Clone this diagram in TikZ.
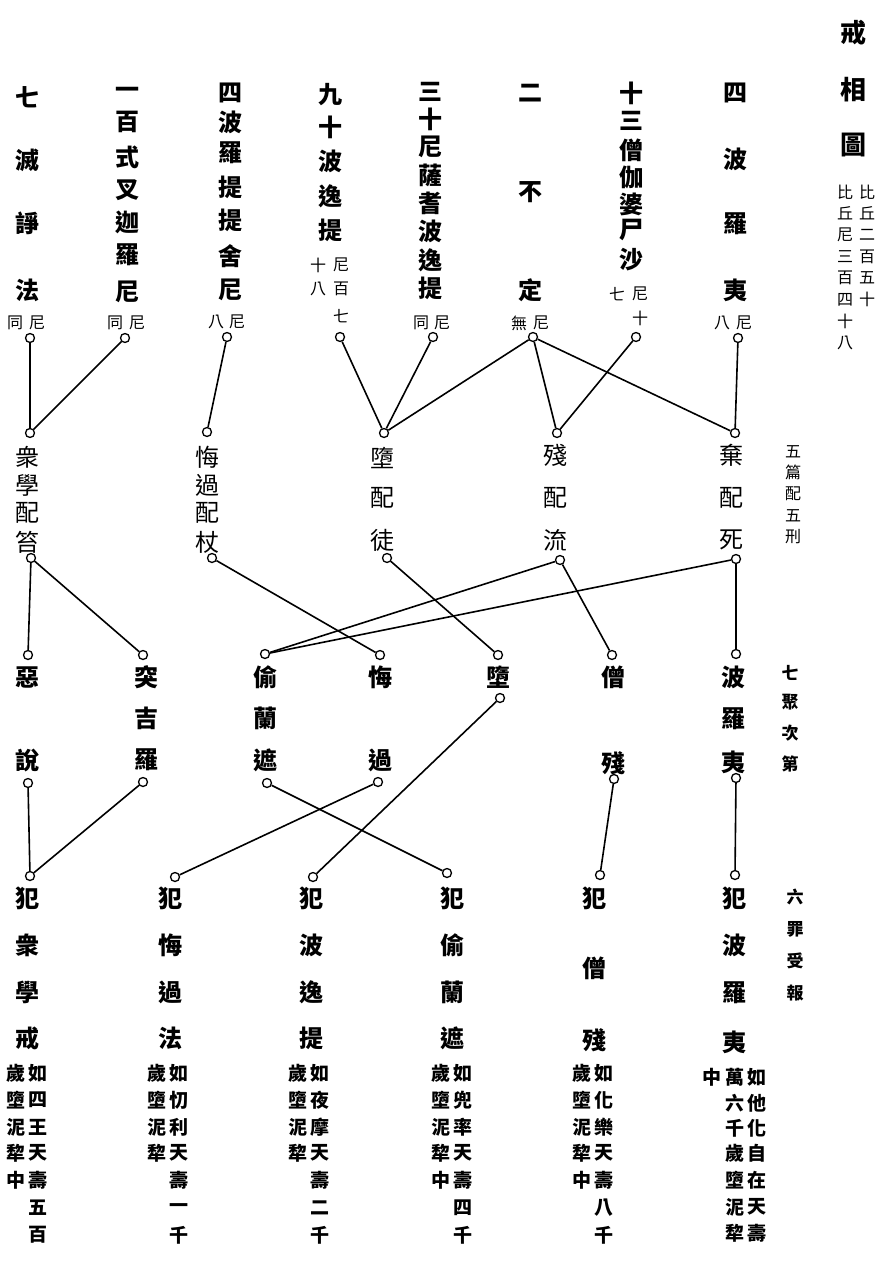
\documentclass[tikz,border=0pt]{standalone}
\usepackage{fontspec}
\newfontfamily\cjk{Noto Sans CJK TC}
\tikzset{
  ch/.style={font=\cjk\bfseries\fontsize{24}{24}\selectfont, inner sep=0pt},
  chm/.style={font=\cjk\fontsize{24}{24}\selectfont, inner sep=0pt},
  sm/.style={font=\cjk\fontsize{16}{16}\selectfont, inner sep=0pt},
  bs/.style={font=\cjk\bfseries\fontsize{19}{19}\selectfont, inner sep=0pt},
  lab/.style={font=\cjk\bfseries\fontsize{17}{17}\selectfont, inner sep=0pt},
  ttl/.style={font=\cjk\bfseries\fontsize{26}{26}\selectfont, inner sep=0pt},
  pinc/.style={circle, draw, line width=1.3pt, fill=white, minimum size=9pt, inner sep=0pt},
  link/.style={line width=1.6pt}
}
\newcommand\vcol[4][ch]{\foreach \yy/\c [count=\i] in {#4} {\node[#1] (#2-\i) at (#3,\yy) {\c};}}
\begin{document}
\begin{tikzpicture}[x=1pt,y=-1pt]
\useasboundingbox (0,0) rectangle (885,1265);
% title
\vcol[ttl]{ti}{853}{33/戒,90/相,145/圖}
\vcol[sm]{tr}{867}{192/比,213.5/丘,235/二,256.5/百,278/五,299.5/十}
\vcol[sm]{tl}{845}{192/比,213.5/丘,235/尼,256.5/三,278/百,299.5/四,321/十,342.5/八}
% top row
\vcol{t1}{27}{97/七,160/滅,223/諍,290/法}
\vcol[sm]{a1}{15}{323/同} \vcol[sm]{c1}{37}{323/尼}
\vcol{t2}{127}{93/一,122/百,157/式,190/叉,222/迦,255/羅,292/尼}
\vcol[sm]{a2}{115}{323/同} \vcol[sm]{c2}{137}{323/尼}
\vcol{t3}{230}{93/四,122/波,153/羅,187/提,220/提,256/舍,290/尼}
\vcol[sm]{a3}{216}{322/八} \vcol[sm]{c3}{237}{322/尼}
\vcol{t4}{330}{95/九,127/十,161/波,196/逸,230/提}
\vcol[sm]{a4}{318}{265/十,289/八} \vcol[sm]{c4}{341}{265/尼,289/百,316/七}
\vcol{t5}{430}{92/三,119/十,147/尼,175/薩,203/耆,231/波,260/逸,288/提}
\vcol[sm]{a5}{421}{323/同} \vcol[sm]{c5}{442}{323/尼}
\vcol{t6}{530}{93/二,192/不,290/定}
\vcol[sm]{a6}{519}{323/無} \vcol[sm]{c6}{541}{323/尼}
\vcol{t7}{631}{93/十,121/三,150/僧,177/伽,204/婆,230/尸,260/沙}
\vcol[sm]{a7}{617}{294/七} \vcol[sm]{c7}{640}{294/尼,318/十}
\vcol{t8}{735}{93/四,159/波,224/羅,290/夷}
\vcol[sm]{a8}{722}{323/八} \vcol[sm]{c8}{744}{323/尼}
\node[pinc] (p1) at (30,338) {};
\node[pinc] (p2) at (125,338) {};
\node[pinc] (p3) at (227,337) {};
\node[pinc] (p4) at (340,337) {};
\node[pinc] (p5) at (433,337) {};
\node[pinc] (p6) at (533,337) {};
\node[pinc] (p7) at (636,337) {};
\node[pinc] (p8) at (738,338) {};
% middle row
\vcol[chm]{m1}{28}{457/衆,485/學,513/配,542/笞}
\vcol[chm]{m2}{207}{457/悔,485/過,513/配,542/杖}
\vcol[chm]{m3}{382}{458/墮,498/配,540/徒}
\vcol[chm]{m4}{555}{455/殘,498/配,540/流}
\vcol[chm]{m5}{731}{455/棄,498/配,540/死}
\vcol[sm]{ml}{793}{452/五,472/篇,494/配,516/五,537/刑}
\node[pinc] (q1t) at (30,433) {};  \node[pinc] (q1b) at (31,558) {};
\node[pinc] (q2t) at (207,432) {}; \node[pinc] (q2b) at (212,558) {};
\node[pinc] (q3t) at (384,433) {}; \node[pinc] (q3b) at (387,558) {};
\node[pinc] (q4t) at (557,433) {}; \node[pinc] (q4b) at (560,560) {};
\node[pinc] (q5t) at (735,433) {}; \node[pinc] (q5b) at (736,559) {};
% third row
\vcol{r1}{28}{677/惡,760/說}
\vcol{r2}{146}{677/突,718/吉,760/羅}
\vcol{r3}{265}{677/偷,718/蘭,760/遮}
\vcol{r4}{380}{677/悔,760/過}
\vcol{r5}{498}{677/墮}
\vcol{r6}{613}{677/僧,763/殘}
\vcol{r7}{733}{677/波,719/羅,762/夷}
\vcol[lab]{rl}{790}{673/七,702/聚,733/次,764/第}
\node[pinc] (r1t) at (28,655) {};  \node[pinc] (r1b) at (28,783) {};
\node[pinc] (r2t) at (143,655) {}; \node[pinc] (r2b) at (143,782) {};
\node[pinc] (r3t) at (265,654) {}; \node[pinc] (r3b) at (267,783) {};
\node[pinc] (r4t) at (380,655) {}; \node[pinc] (r4b) at (378,782) {};
\node[pinc] (r5t) at (498,655) {}; \node[pinc] (r5b) at (500,698) {};
\node[pinc] (r6t) at (612,655) {}; \node[pinc] (r6b) at (614,779) {};
\node[pinc] (r7t) at (736,654) {}; \node[pinc] (r7b) at (736,778) {};
% bottom row
\vcol{b1}{28}{898/犯,945/衆,992/學,1038/戒}
\vcol[bs]{d1}{38}{1073/如,1100/四,1127/王,1153/天,1180/壽,1208/五,1235/百}
\vcol[bs]{e1}{16}{1073/歲,1100/墮,1127/泥,1153/犂,1180/中}
\vcol{b2}{170}{898/犯,945/悔,992/過,1038/法}
\vcol[bs]{d2}{179}{1073/如,1100/忉,1127/利,1153/天,1180/壽,1208/一,1235/千}
\vcol[bs]{e2}{157}{1073/歲,1100/墮,1127/泥,1153/犂}
\vcol{b3}{311}{898/犯,945/波,992/逸,1038/提}
\vcol[bs]{d3}{320}{1073/如,1100/夜,1127/摩,1153/天,1180/壽,1208/二,1235/千}
\vcol[bs]{e3}{298}{1073/歲,1100/墮,1127/泥,1153/犂}
\vcol{b4}{452}{898/犯,945/偷,992/蘭,1038/遮}
\vcol[bs]{d4}{463}{1073/如,1100/兜,1127/率,1153/天,1180/壽,1208/四,1235/千}
\vcol[bs]{e4}{441}{1073/歲,1100/墮,1127/泥,1153/犂,1180/中}
\vcol{b5}{594}{898/犯,968/僧,1040/殘}
\vcol[bs]{d5}{604}{1073/如,1100/化,1127/樂,1153/天,1180/壽,1208/八,1235/千}
\vcol[bs]{e5}{582}{1073/歲,1100/墮,1127/泥,1153/犂,1180/中}
\vcol{b6}{734}{898/犯,945/波,993/羅,1042/夷}
\vcol[bs]{d6}{757}{1077/如,1103/他,1128/化,1153/自,1180/在,1207/天,1233/壽}
\vcol[bs]{e6}{735}{1077/萬,1103/六,1128/千,1153/歲,1180/墮,1207/泥,1233/犂}
\vcol[bs]{f6}{712}{1077/中}
\vcol[lab]{bl}{795}{897/六,929/罪,961/受,993/報}
\node[pinc] (b1t) at (30,876) {};
\node[pinc] (b2t) at (175,877) {};
\node[pinc] (b3t) at (313,877) {};
\node[pinc] (b4t) at (447,873) {};
\node[pinc] (b5t) at (600,875) {};
\node[pinc] (b6t) at (735,875) {};
% connectors
\draw[link] (p1) -- (q1t);
\draw[link] (p2) -- (q1t);
\draw[link] (p3) -- (q2t);
\draw[link] (p4) -- (q3t);
\draw[link] (p5) -- (q3t);
\draw[link] (p6) -- (q3t);
\draw[link] (p6) -- (q4t);
\draw[link] (p6) -- (q5t);
\draw[link] (p7) -- (q4t);
\draw[link] (p8) -- (q5t);
\draw[link] (q1b) -- (r1t);
\draw[link] (q1b) -- (r2t);
\draw[link] (q2b) -- (r4t);
\draw[link] (q3b) -- (r5t);
\draw[link] (q4b) -- (r3t);
\draw[link] (q4b) -- (r6t);
\draw[link] (q5b) -- (r3t);
\draw[link] (q5b) -- (r7t);
\draw[link] (r1b) -- (b1t);
\draw[link] (r2b) -- (b1t);
\draw[link] (r3b) -- (b4t);
\draw[link] (r4b) -- (b2t);
\draw[link] (r5b) -- (b3t);
\draw[link] (r6b) -- (b5t);
\draw[link] (r7b) -- (b6t);
\end{tikzpicture}
\end{document}
